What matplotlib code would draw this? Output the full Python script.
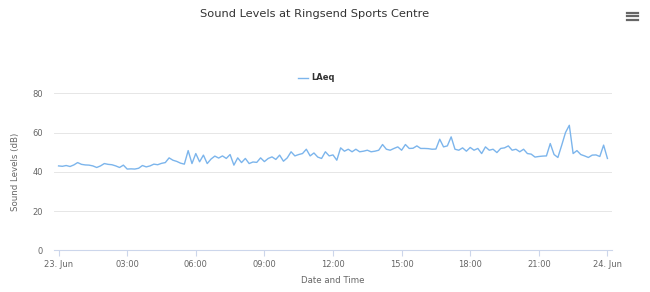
import matplotlib
matplotlib.use("Agg")
import matplotlib.dates as mdates
import pandas as pd
from matplotlib import pyplot as plt
from matplotlib.lines import Line2D

# LAeq readings, 10 minute steps from 23 Jun 00:00
laeq = [
    43.0, 42.8, 43.2, 42.7, 43.5, 44.7,
    43.8, 43.5, 43.4, 43.0, 42.2, 43.0,
    44.2, 43.8, 43.6, 43.0, 42.2, 43.4,
    41.4, 41.5, 41.4, 41.8, 43.2, 42.5,
    43.0, 43.9, 43.6, 44.3, 44.7, 47.1,
    45.9, 45.3, 44.4, 43.9, 50.8, 44.2,
    49.3, 45.1, 48.5, 44.2, 46.5, 48.0,
    47.0, 48.1, 46.8, 48.8, 43.4, 47.1,
    44.7, 46.8, 44.2, 45.0, 44.8, 47.1,
    45.2, 46.8, 47.6, 46.3, 48.5, 45.4,
    47.1, 50.2, 48.1, 48.8, 49.3, 51.5,
    48.1, 49.6, 47.5, 46.8, 50.2, 48.1,
    48.6, 45.9, 52.2, 50.5, 51.5, 50.2,
    51.5, 50.2, 50.5, 51.0, 50.2, 50.5,
    51.0, 53.9, 51.5, 51.0, 51.9, 52.7,
    51.0, 53.9, 51.9, 52.0, 53.2, 51.9,
    51.9, 51.8, 51.5, 51.6, 56.6, 52.7,
    53.2, 57.8, 51.5, 51.0, 52.2, 50.5,
    52.4, 51.0, 51.9, 49.3, 52.7, 51.0,
    51.5, 49.8, 51.9, 52.2, 53.2, 51.0,
    51.5, 50.2, 51.5, 49.3, 49.0, 47.5,
    47.8, 48.0, 48.1, 54.4, 48.8, 47.3,
    53.5, 60.0, 63.7, 49.3, 50.8, 48.8,
    48.1, 47.3, 48.5, 48.6, 47.8, 53.6,
    46.8,
]
times = pd.date_range("2017-06-23 00:00", periods=len(laeq), freq="10min")
y_ticks = [0, 20, 40, 60, 80]

FONT = "DejaVu Sans"
GRID = "#e6e6e6"
AXIS = "#ccd6eb"
LABEL = "#666666"

fig = plt.figure(figsize=(6.5, 2.92), dpi=100)
ax = fig.add_axes([54 / 650, 1 - 250.3 / 292, (612 - 54) / 650, (250.3 - 93.3) / 292])

ax.plot(times, laeq, color="#7cb5ec", linewidth=1.0, label="LAeq")

ax.set_ylim(0, 80)
ax.set_yticks(y_ticks)
start = times[0]
ax.set_xlim(start - pd.Timedelta(minutes=12), start + pd.Timedelta(hours=24, minutes=12))
ax.xaxis.set_major_locator(mdates.HourLocator(byhour=range(0, 24, 3)))


def fmt(x, pos=None):
    d = mdates.num2date(x)
    if d.hour == 0 and d.minute == 0:
        return f"{d.day}. {d.strftime('%b')}"
    return d.strftime("%H:%M")


ax.xaxis.set_major_formatter(plt.FuncFormatter(fmt))

for s in ["top", "right", "left"]:
    ax.spines[s].set_visible(False)
ax.spines["bottom"].set_color(AXIS)
ax.spines["bottom"].set_linewidth(0.8)
ax.grid(axis="y", color=GRID, linewidth=0.7)
ax.set_axisbelow(True)
ax.tick_params(axis="y", length=0, pad=8, labelsize=6, labelcolor=LABEL)
ax.tick_params(axis="x", length=4, width=0.8, color=AXIS, pad=3, labelsize=6, labelcolor=LABEL)
for t in ax.get_xticklabels() + ax.get_yticklabels():
    t.set_family(FONT)

ax.set_ylabel("Sound Levels (dB)", fontsize=6.2, color=LABEL, family=FONT, labelpad=9)
ax.set_xlabel("Date and Time", fontsize=6.2, color=LABEL, family=FONT, labelpad=5)

fig.text(315 / 650, 1 - 14 / 292, "Sound Levels at Ringsend Sports Centre",
         ha="center", va="center", fontsize=8.2, color="#333333", family=FONT)

leg = ax.legend(loc="center", bbox_to_anchor=((316 - 54) / 558, 1 + (93.3 - 78) / 157), frameon=False,
                handlelength=1.2, handletextpad=0.4, prop={"family": FONT, "size": 6, "weight": "bold"})
for t in leg.get_texts():
    t.set_color("#333333")

# export menu icon
for dy in (12.5, 16, 19.5):
    fig.add_artist(Line2D([627 / 650, 638 / 650], [1 - dy / 292] * 2, color="#666666", linewidth=1.6))

fig.savefig("out.png", dpi=100)
